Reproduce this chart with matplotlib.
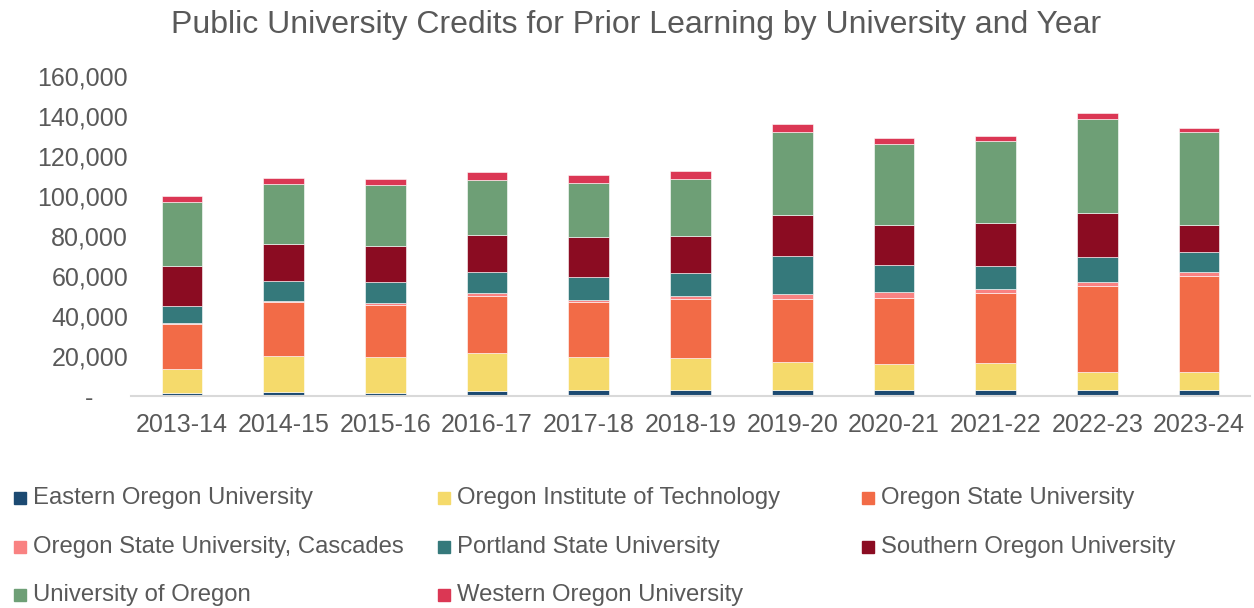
import numpy as np
import matplotlib
matplotlib.use("Agg")
import matplotlib.pyplot as plt
from matplotlib.patches import Rectangle

plt.rcParams['font.family'] = ['Liberation Sans', 'DejaVu Sans']

years = ["2013-14", "2014-15", "2015-16", "2016-17", "2017-18", "2018-19",
         "2019-20", "2020-21", "2021-22", "2022-23", "2023-24"]

# credits per university (stack order bottom -> top)
eou = [1600, 2100, 1650, 2650, 3150, 2850, 2850, 2850, 2850, 3000, 3150]
oit = [11700, 17700, 17850, 19000, 16200, 16000, 14000, 13150, 13500, 8850, 8850]
osu = [22850, 27150, 26150, 28500, 27800, 29500, 31800, 33150, 35300, 43300, 48150]
osu_c = [300, 650, 1000, 1200, 1000, 1500, 2350, 2850, 2000, 2000, 1700]
psu = [8650, 9850, 10350, 10500, 11350, 11650, 19000, 13650, 11350, 12350, 10300]
sou = [19700, 18350, 18150, 18500, 20150, 18500, 20500, 20000, 21650, 22150, 13500]
uo = [32300, 30000, 30350, 27650, 26850, 28500, 41650, 40500, 40700, 46700, 46200]
wou = [2850, 3150, 3000, 3850, 4000, 4150, 3700, 2850, 2500, 3150, 2150]

names = ["Eastern Oregon University", "Oregon Institute of Technology",
         "Oregon State University", "Oregon State University, Cascades",
         "Portland State University", "Southern Oregon University",
         "University of Oregon", "Western Oregon University"]
series = [eou, oit, osu, osu_c, psu, sou, uo, wou]
colors = ["#1c4a72", "#f5da6b", "#f26b47", "#f98282",
          "#35797b", "#8b0c22", "#6e9f76", "#db3754"]

grey = "#595959"

fig = plt.figure(figsize=(12.54, 6.08), dpi=100)
ax = fig.add_axes([131/1254, 1 - 396/608, (1250-131)/1254, (396-76)/608])

x = np.arange(len(years))
bottom = np.zeros(len(years))
for vals, c in zip(series, colors):
    ax.bar(x, vals, 0.4, bottom=bottom, color=c, edgecolor='white', linewidth=0.4)
    bottom += np.array(vals)

ax.set_xlim(-0.5, len(years) - 0.5)
ax.set_ylim(0, 160000)
ax.set_xticks(x)
ax.set_xticklabels(years, fontsize=18, color=grey)
yt = np.arange(0, 160001, 20000)
ax.set_yticks(yt)
ax.set_yticklabels(["-     "] + ["{:,}".format(v) for v in yt[1:]], fontsize=18, color=grey)
ax.tick_params(axis='both', length=0)
ax.tick_params(axis='x', pad=12)
ax.tick_params(axis='y', pad=2)
for s in ['top', 'right', 'left']:
    ax.spines[s].set_visible(False)
ax.spines['bottom'].set_color('#d9d9d9')
ax.spines['bottom'].set_linewidth(1.5)

fig.text(636/1254, 1 - 25/608, "Public University Credits for Prior Learning by University and Year",
         fontsize=23, color=grey, ha='center', va='center')

# legend, 3 columns like Excel
for i, (n, c) in enumerate(zip(names, colors)):
    col, row = i % 3, i // 3
    px = 14 + col * 424
    py = 498 + row * 48.5
    fig.add_artist(Rectangle((px/1254, 1 - (py + 6)/608), 12/1254, 12/608,
                             transform=fig.transFigure, color=c))
    fig.text((px + 19)/1254, 1 - py/608, n, fontsize=17.2, color=grey, va='center')

plt.savefig("out.png")
